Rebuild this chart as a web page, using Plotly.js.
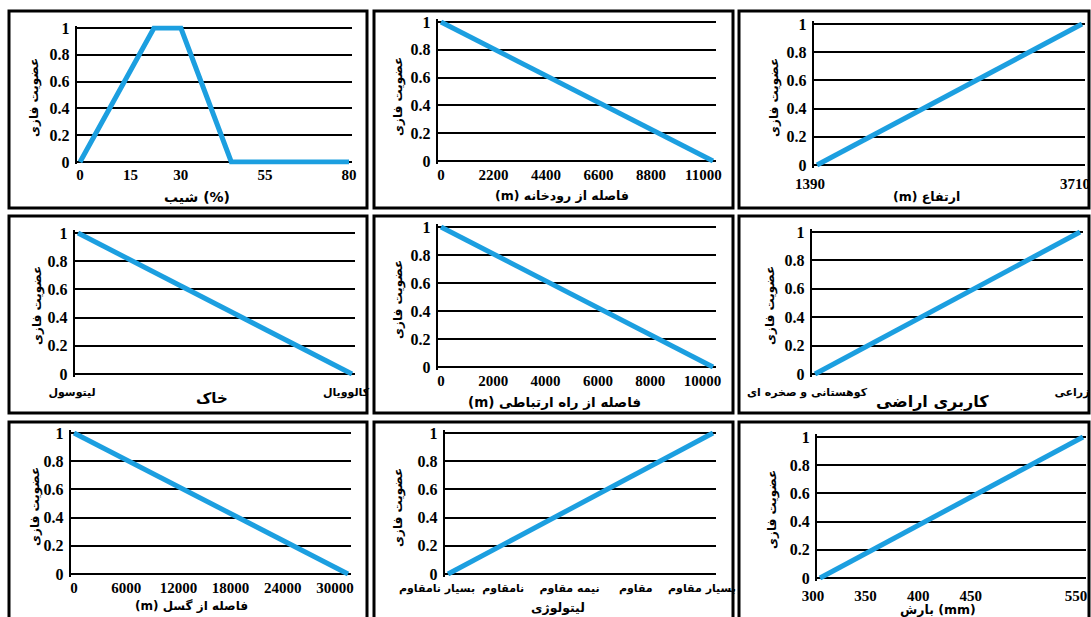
<!DOCTYPE html>
<html><head><meta charset="utf-8">
<script src="https://cdn.plot.ly/plotly-3.0.1.min.js"></script>
<style>html,body{margin:0;padding:0;background:#fff;}#chart{width:1091px;height:617px;}</style>
</head><body><div id="chart"></div>
<script>
// ---------------- data ----------------
const yTitle = 'عضویت فازی';
const yTicks = [0, 0.2, 0.4, 0.6, 0.8, 1];

const slopeX = [0, 22, 30, 45, 80];
const slopeY = [0, 1, 1, 0, 0];
const slopeTicks = [0, 15, 30, 55, 80];
const slopeTitle = 'شیب (%)';

const riverX = [0, 11400];
const riverY = [1, 0];
const riverTicks = [0, 2200, 4400, 6600, 8800, 11000];
const riverTitle = '(m) فاصله از رودخانه';

const elevX = [1390, 3710];
const elevY = [0, 1];
const elevTicks = [1390, 3710];
const elevTitle = '(m) ارتفاع';

const soilCats = ['لیتوسول', 'کالوویال'];
const soilY = [1, 0];
const soilTitle = 'خاک';

const roadX = [0, 10400];
const roadY = [1, 0];
const roadTicks = [0, 2000, 4000, 6000, 8000, 10000];
const roadTitle = '(m) فاصله از راه ارتباطی';

const landCats = ['کوهستانی و صخره ای', 'زراعی'];
const landY = [0, 1];
const landTitle = 'کاربری اراضی';

const faultX = [0, 31500];
const faultY = [1, 0];
const faultTicks = [0, 6000, 12000, 18000, 24000, 30000];
const faultTitle = '(m) فاصله از گسل';

const lithoCats = ['بسیار نامقاوم', 'نامقاوم', 'نیمه مقاوم', 'مقاوم', 'بسیار مقاوم'];
const lithoLineX = ['بسیار نامقاوم', 'بسیار مقاوم'];
const lithoY = [0, 1];
const lithoTitle = 'لیتولوژی';

const rainX = [300, 550];
const rainY = [0, 1];
const rainTicks = [300, 350, 400, 450, 550];
const rainTitle = '\u200Eبارش (mm)';

// ---------------- layout (pixel geometry) ----------------
const W = 1091, H = 617;
const BLUE = '#1C9FE0';
const PERSIAN = 'DejaVu Sans, Noto Sans, sans-serif';
const SERIF = 'Liberation Serif, Times New Roman, serif';

const panels = [
  {x: slopeX, y: slopeY, ticks: slopeTicks, title: slopeTitle, px:[80,349], py:[28,162], box:[9,11,367,208], yt:[34,98], xt:[197,197], xs:14, shift:0, so:0},
  {x: riverX, y: riverY, ticks: riverTicks, title: riverTitle, px:[441,713], py:[22,161], box:[374,11,733,208], yt:[398,97], xt:[562,195], xs:12.5, shift:0, so:0},
  {x: elevX, y: elevY, ticks: elevTicks, title: elevTitle, px:[817,1082], py:[24,165], box:[739,11,1089,208], yt:[774,98], xt:[926,196], xs:12.5, shift:-7, so:5},
  {x: soilCats, y: soilY, cats: soilCats, title: soilTitle, px:[78,352], py:[233,374], box:[9,216,367,413], yt:[37,306], xt:[212,398], xs:15, shift:-6, so:7},
  {x: roadX, y: roadY, ticks: roadTicks, title: roadTitle, px:[441,713], py:[227,367], box:[374,216,733,413], yt:[398,300], xt:[554,402], xs:13.5, shift:0, so:0},
  {x: landCats, y: landY, cats: landCats, title: landTitle, px:[815,1080], py:[232,374], box:[739,216,1089,413], yt:[770,306], xt:[932,401], xs:16, shift:-8, so:7},
  {x: faultX, y: faultY, ticks: faultTicks, title: faultTitle, px:[74,348], py:[433,574], box:[9,422,367,630], yt:[35,507], xt:[191,606], xs:12, shift:0, so:0},
  {x: lithoLineX, y: lithoY, cats: lithoCats, title: lithoTitle, px:[448,713], py:[433,574], box:[374,422,733,630], yt:[398,508], xt:[558,607], xs:12.5, shift:-11, so:3},
  {x: rainX, y: rainY, ticks: rainTicks, title: rainTitle, px:[820,1083], py:[437,578], box:[739,422,1089,630], yt:[772,510], xt:[938,609], xs:12.5, shift:-7, so:4}
];

const PX = 0.012, PY = 0.018;
const traces = [], shapes = [], annotations = [];
const layout = {
  width: W, height: H, margin: {l:0, r:0, t:0, b:0},
  paper_bgcolor: '#fff', plot_bgcolor: 'rgba(0,0,0,0)', showlegend: false
};

panels.forEach((p, i) => {
  const n = i + 1;
  const xa = 'xaxis' + (n === 1 ? '' : n), ya = 'yaxis' + (n === 1 ? '' : n);
  const xr = 'x' + (n === 1 ? '' : n), yr = 'y' + (n === 1 ? '' : n);
  const wpx = p.px[1] - p.px[0], hpx = p.py[1] - p.py[0];
  const dx0 = (p.px[0] - PX * wpx) / W, dx1 = (p.px[1] + PX * wpx) / W;
  const dyTop = 1 - (p.py[0] - PY * hpx) / H, dyBot = 1 - (p.py[1] + PY * hpx) / H;

  traces.push({
    type: 'scatter', mode: 'lines', x: p.x, y: p.y, xaxis: xr, yaxis: yr,
    line: {color: BLUE, width: 5}, hoverinfo: 'skip'
  });

  let xaxis;
  if (p.cats) {
    const span = p.cats.length - 1;
    xaxis = {type: 'category', categoryorder: 'array', categoryarray: p.cats,
      range: [-PX * span, span + PX * span],
      tickfont: {family: PERSIAN, size: 11, color: '#000', weight: 'bold'}};
  } else {
    const lo = Math.min(...p.x), hi = Math.max(...p.x), span = hi - lo;
    xaxis = {type: 'linear', range: [lo - PX * span, hi + PX * span], tickvals: p.ticks,
      tickformat: 'd',
      tickfont: {family: SERIF, size: 15, color: '#000', weight: 'bold'}};
  }
  Object.assign(xaxis, {domain: [dx0, dx1], anchor: yr, showgrid: false, zeroline: false,
    showline: false, ticks: '', ticklabelshift: p.shift, ticklabeloverflow: 'allow',
    ticklabelstandoff: p.so, fixedrange: true});
  layout[xa] = xaxis;

  layout[ya] = {domain: [dyBot, dyTop], anchor: xr, range: [-PY, 1 + PY], tickvals: yTicks,
    showgrid: true, gridcolor: '#000', gridwidth: 2,
    zeroline: true, zerolinecolor: '#000', zerolinewidth: 2,
    showline: true, linecolor: '#000', linewidth: 2, ticks: '', ticklabelstandoff: 2,
    tickfont: {family: SERIF, size: 16, color: '#000', weight: 'bold'}, fixedrange: true};

  shapes.push({type: 'rect', xref: 'paper', yref: 'paper',
    x0: p.box[0] / W, x1: p.box[2] / W, y0: 1 - p.box[1] / H, y1: 1 - p.box[3] / H,
    line: {color: '#000', width: 3}, fillcolor: 'rgba(0,0,0,0)'});

  annotations.push({text: yTitle, xref: 'paper', yref: 'paper', x: p.yt[0] / W, y: 1 - p.yt[1] / H,
    xanchor: 'center', yanchor: 'middle', textangle: -90, showarrow: false,
    font: {family: PERSIAN, size: 12, color: '#000', weight: 'bold'}});
  annotations.push({text: p.title, xref: 'paper', yref: 'paper', x: p.xt[0] / W, y: 1 - p.xt[1] / H,
    xanchor: 'center', yanchor: 'middle', showarrow: false,
    font: {family: PERSIAN, size: p.xs, color: '#000', weight: 'bold'}});
});

layout.shapes = shapes;
layout.annotations = annotations;

Plotly.newPlot('chart', traces, layout, {staticPlot: true, displayModeBar: false});
</script>
</body></html>
